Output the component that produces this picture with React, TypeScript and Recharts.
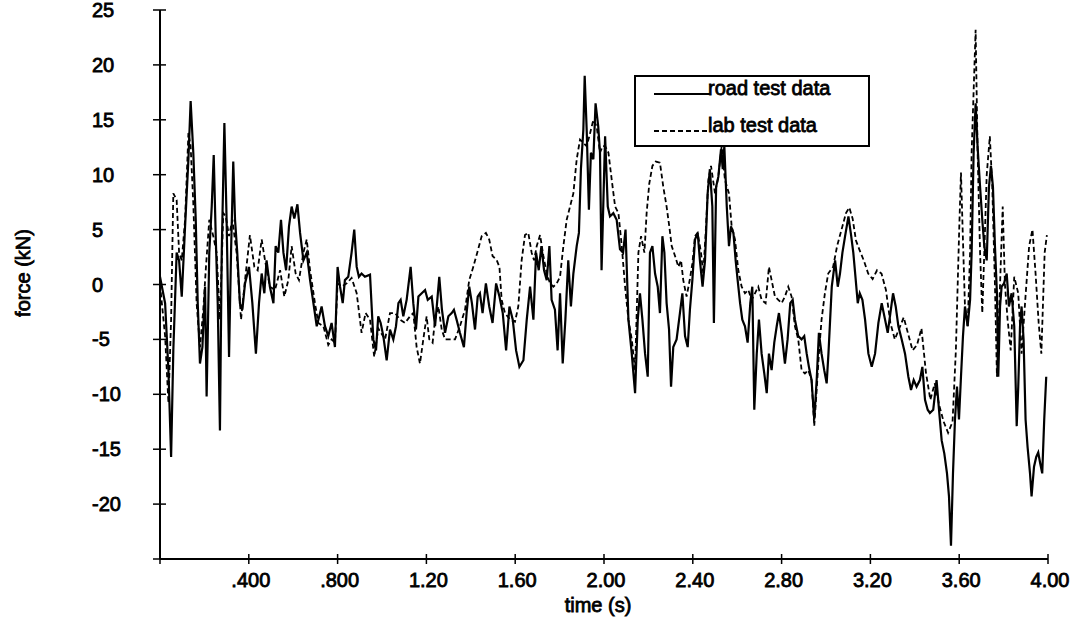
import { Legend, Line, LineChart, XAxis, YAxis } from "recharts";

// [time (s), force (kN)]
const roadTest: [number, number][] = [
  [0.0, 0.7], [0.023, -1.7], [0.038, -7.8], [0.05, -15.7], [0.06, -6.0], [0.075, 2.9],
  [0.086, 2.2], [0.098, -1.1], [0.113, 5.3], [0.128, 11.4], [0.138, 16.7], [0.15, 12.0],
  [0.161, 5.9], [0.17, -1.7], [0.18, -7.2], [0.191, -5.7], [0.203, -0.2], [0.21, -10.2],
  [0.222, 2.9], [0.233, 7.1], [0.242, 11.8], [0.251, 4.4], [0.26, -1.7], [0.27, -13.3],
  [0.278, 2.9], [0.29, 14.7], [0.3, 5.9], [0.311, -6.6], [0.32, 2.9], [0.33, 11.2],
  [0.338, 5.9], [0.348, 2.9], [0.36, -1.7], [0.371, -2.3], [0.383, 0.1], [0.401, 1.6],
  [0.416, -1.7], [0.432, -6.3], [0.446, -1.7], [0.458, 1.0], [0.47, -0.8], [0.48, 2.2],
  [0.495, -0.2], [0.511, -1.7], [0.521, 3.5], [0.533, 2.9], [0.545, 5.9], [0.556, 2.9],
  [0.568, 1.3], [0.581, 5.3], [0.593, 7.1], [0.605, 6.0], [0.619, 7.3], [0.631, 4.7],
  [0.646, 2.2], [0.661, 2.9], [0.676, 0.4], [0.691, -1.7], [0.706, -3.8], [0.721, -2.6],
  [0.728, -2.0], [0.743, -3.8], [0.758, -4.7], [0.773, -3.5], [0.788, -5.7], [0.8, 1.6],
  [0.811, -0.2], [0.823, -1.7], [0.833, 0.4], [0.848, 0.7], [0.863, 2.9], [0.875, 5.0],
  [0.886, 1.6], [0.896, 0.7], [0.908, 1.0], [0.923, 0.7], [0.946, 0.9], [0.961, -5.0],
  [0.973, -6.0], [0.983, -2.9], [0.994, -3.5],
  [1.006, -4.7], [1.021, -6.9], [1.036, -4.1], [1.051, -5.0], [1.063, -3.8], [1.074, -1.7],
  [1.084, -1.4], [1.096, -2.9], [1.111, -1.4], [1.129, 1.6], [1.141, -1.7], [1.153, -4.1],
  [1.164, -1.1], [1.179, -0.8], [1.194, -0.5], [1.206, -1.4], [1.224, -1.1], [1.239, -3.8],
  [1.258, 0.7], [1.27, -2.3], [1.284, -4.4], [1.299, -2.9], [1.314, -2.6], [1.324, -2.3],
  [1.336, -3.2], [1.351, -4.4], [1.369, -5.7], [1.381, -2.6], [1.393, -0.2], [1.405, -1.7],
  [1.419, -4.1], [1.431, -1.1], [1.441, -0.8], [1.453, -2.6], [1.468, 0.1], [1.483, -2.0],
  [1.498, -3.5], [1.514, 0.1], [1.529, -1.1], [1.544, -2.6], [1.559, -6.0], [1.574, -2.0],
  [1.589, -3.2], [1.604, -6.0], [1.619, -7.5], [1.637, -6.9], [1.652, -3.2], [1.667, -0.2],
  [1.682, -3.2], [1.694, 2.9], [1.706, 1.3], [1.718, 3.5], [1.73, 1.3], [1.742, 0.4],
  [1.754, 3.5], [1.764, -1.4], [1.779, -2.3], [1.791, -6.0], [1.802, -0.8], [1.814, -7.2],
  [1.826, -3.2], [1.839, 2.2], [1.851, -2.0], [1.862, 1.0], [1.877, 3.5], [1.887, 4.7],
  [1.896, 10.5], [1.907, 14.1], [1.913, 19.0], [1.922, 14.1], [1.932, 6.8], [1.941, 12.0],
  [1.952, 11.4], [1.962, 16.5], [1.974, 14.4], [1.982, 12.0], [1.989, 1.3], [2.005, 13.5],
  [2.017, 7.1], [2.027, 6.2], [2.042, 6.5], [2.057, 5.9], [2.072, 3.2], [2.086, 2.9],
  [2.097, 5.0], [2.11, -3.2], [2.125, -6.3], [2.14, -9.9], [2.152, -3.2], [2.162, -0.8],
  [2.173, -3.2], [2.185, -6.3], [2.197, -8.4], [2.207, 2.9], [2.218, 3.5], [2.23, 1.0],
  [2.242, -0.2], [2.252, -2.6], [2.263, 4.4], [2.272, 2.9], [2.282, -1.7], [2.293, -4.1],
  [2.302, -9.3], [2.312, -5.7], [2.327, -5.0], [2.342, -2.6], [2.353, -0.8], [2.365, -4.7],
  [2.377, -5.7], [2.387, -2.3], [2.398, 0.4], [2.41, 4.1], [2.422, 4.7], [2.432, 2.2],
  [2.444, -0.2], [2.455, 2.2], [2.467, 8.3], [2.477, 10.5], [2.488, 7.1], [2.495, -3.5],
  [2.505, 8.9], [2.515, 9.8], [2.527, 12.3], [2.535, 10.5], [2.542, 12.6], [2.553, 7.1],
  [2.563, 3.5], [2.572, 5.3], [2.583, 4.7], [2.593, 2.2], [2.602, 0.4], [2.613, -1.7],
  [2.623, -3.2], [2.635, -3.8], [2.647, -5.3], [2.659, -1.7], [2.668, -0.2], [2.677, -11.4],
  [2.688, -6.3], [2.698, -3.2], [2.71, -6.3], [2.722, -8.1], [2.733, -9.9], [2.743, -6.3],
  [2.755, -7.8], [2.767, -5.3], [2.778, -3.8], [2.788, -2.6], [2.8, -4.4], [2.815, -7.2],
  [2.827, -5.0], [2.839, -1.7], [2.85, -1.4], [2.86, -3.2], [2.875, -4.7], [2.89, -5.0],
  [2.902, -4.7], [2.913, -6.3], [2.923, -7.5], [2.935, -8.7], [2.947, -12.3], [2.958, -8.7],
  [2.968, -4.4], [2.98, -6.3], [2.992, -7.8], [3.003, -9.0], [3.011, -6.3], [3.026, -0.2],
  [3.041, 2.2], [3.053, -0.2], [3.063, 1.0], [3.074, 2.9], [3.086, 4.4], [3.101, 6.2],
  [3.113, 4.5], [3.123, 2.9], [3.134, 0.4], [3.143, -1.7], [3.152, -0.8], [3.164, -1.4],
  [3.176, -3.2], [3.191, -6.3], [3.206, -7.5], [3.221, -6.3], [3.236, -3.5], [3.251, -1.7],
  [3.266, -3.2], [3.278, -4.4], [3.29, -2.6], [3.302, -0.8], [3.314, -2.0], [3.326, -3.8],
  [3.341, -5.0], [3.356, -6.3], [3.371, -8.4], [3.383, -9.6], [3.395, -8.7], [3.408, -9.3],
  [3.423, -8.7], [3.434, -7.5], [3.446, -10.5], [3.458, -11.4], [3.468, -11.7], [3.483, -11.4],
  [3.498, -8.7], [3.509, -11.4], [3.521, -14.2], [3.533, -15.4], [3.545, -17.2], [3.554, -19.3],
  [3.563, -23.8], [3.572, -17.2], [3.581, -12.3], [3.59, -9.3], [3.599, -12.3], [3.608, -8.4],
  [3.617, -4.7], [3.626, -2.0], [3.638, -3.8], [3.649, -1.4], [3.656, 2.9], [3.665, 12.0],
  [3.674, 16.5], [3.683, 12.5], [3.694, 8.9], [3.704, 5.9], [3.713, 3.5], [3.724, 2.2],
  [3.734, 8.9], [3.743, 10.8], [3.752, 8.9], [3.761, 3.5], [3.77, -0.8], [3.776, -8.4],
  [3.784, -2.0], [3.791, -0.2], [3.802, 0.1], [3.814, 1.0], [3.824, -2.0], [3.836, -0.8],
  [3.848, -3.8], [3.859, -12.9], [3.866, -9.3], [3.874, -3.8], [3.881, -2.0], [3.89, -5.0],
  [3.899, -12.3], [3.908, -14.8], [3.919, -17.2], [3.926, -19.3], [3.937, -16.6], [3.947, -15.7],
  [3.956, -15.3], [3.965, -16.3], [3.974, -17.2], [3.983, -12.3], [3.992, -8.4],
];

const labTest: [number, number][] = [
  [0.0, 0.0], [0.023, -4.7], [0.038, -10.8], [0.05, -3.2], [0.06, 8.3], [0.075, 7.7],
  [0.086, 2.9], [0.098, 2.2], [0.113, 5.9], [0.128, 13.8], [0.138, 12.6], [0.15, 7.4],
  [0.165, -1.7], [0.18, -5.7], [0.195, -2.3], [0.206, 1.3], [0.222, 5.9], [0.24, 4.4],
  [0.255, 2.9], [0.27, -3.2], [0.285, 6.5], [0.296, 6.2], [0.311, 4.4], [0.326, 5.9],
  [0.345, 2.9], [0.365, -3.2], [0.383, 0.4], [0.405, 4.5], [0.425, 1.6], [0.44, 1.3],
  [0.458, 4.1], [0.473, 2.2], [0.495, -0.2], [0.518, -0.5], [0.541, 1.3], [0.56, -1.1],
  [0.578, 0.4], [0.593, 3.5], [0.611, 1.0], [0.626, 0.4], [0.646, 2.9], [0.661, 4.1],
  [0.676, 1.3], [0.698, -1.7], [0.713, -3.5], [0.736, -3.8], [0.758, -5.5], [0.773, -5.0],
  [0.788, -5.3], [0.8, 0.1], [0.818, -0.2], [0.841, 0.1], [0.863, 0.6], [0.886, -0.8],
  [0.908, -4.4], [0.926, -2.6], [0.946, -3.2], [0.965, -6.6], [0.983, -4.0], [1.014, -5.0],
  [1.036, -2.6], [1.059, -2.6], [1.081, -3.2], [1.104, -3.5], [1.126, -2.9], [1.141, -2.6],
  [1.156, -5.7], [1.171, -7.2], [1.186, -5.0], [1.201, -2.9], [1.213, -5.0], [1.228, -5.3],
  [1.239, -3.2], [1.254, -2.0], [1.269, -4.1], [1.284, -5.0], [1.306, -5.0], [1.329, -5.0],
  [1.351, -3.8], [1.374, -2.3], [1.393, 0.4], [1.411, 1.6], [1.429, 2.9], [1.449, 4.4],
  [1.468, 4.7], [1.483, 4.1], [1.498, 2.6], [1.517, 2.2], [1.529, 1.6], [1.539, -1.4],
  [1.554, -2.6], [1.577, -3.2], [1.599, -3.4], [1.614, -2.0], [1.629, 2.2], [1.644, 4.5],
  [1.659, 4.7], [1.674, 2.9], [1.685, 2.2], [1.697, 3.5], [1.712, 4.5], [1.727, 2.6],
  [1.742, 1.0], [1.757, 0.1], [1.772, -0.2], [1.787, 0.1], [1.802, 0.7], [1.817, 3.5],
  [1.832, 5.9], [1.847, 7.1], [1.862, 8.3], [1.877, 11.4], [1.892, 13.2], [1.907, 12.9],
  [1.922, 12.6], [1.934, 13.5], [1.952, 15.0], [1.967, 14.4], [1.982, 12.0], [1.994, 12.6],
  [2.005, 12.6], [2.02, 12.0], [2.035, 9.5], [2.05, 7.1], [2.065, 6.5], [2.08, 3.5],
  [2.095, -0.2], [2.11, -3.2], [2.125, -5.0], [2.14, -7.8], [2.155, 2.9], [2.167, 4.4],
  [2.182, 2.9], [2.192, 6.5], [2.204, 9.2], [2.218, 10.8], [2.233, 11.2], [2.252, 11.1],
  [2.267, 8.9], [2.282, 7.1], [2.294, 5.3], [2.305, 3.5], [2.32, 2.6], [2.335, 1.6],
  [2.347, 2.2], [2.357, 0.4], [2.372, -1.1], [2.387, 0.5], [2.398, 1.9], [2.41, 4.4],
  [2.422, 4.7], [2.437, 2.9], [2.447, 1.0], [2.458, 4.7], [2.47, 9.5], [2.482, 10.8],
  [2.5, 8.3], [2.515, 9.8], [2.53, 12.6], [2.545, 9.5], [2.563, 8.3], [2.575, 5.3],
  [2.59, 4.1], [2.605, 1.3], [2.62, -0.2], [2.635, -0.8], [2.65, -0.5], [2.665, -1.4],
  [2.68, -0.8], [2.695, -0.2], [2.71, -1.4], [2.728, -1.7], [2.743, 1.6], [2.755, 0.4],
  [2.77, -1.1], [2.785, -1.4], [2.8, -1.7], [2.815, -1.1], [2.83, -0.2], [2.845, -1.1],
  [2.86, -3.8], [2.875, -5.0], [2.89, -7.8], [2.905, -8.1], [2.92, -7.8], [2.935, -8.7],
  [2.947, -12.9], [2.958, -9.6], [2.968, -6.3], [2.98, -3.2], [2.995, -0.8], [3.01, 1.0],
  [3.032, 1.6], [3.05, 3.5], [3.07, 5.0], [3.09, 6.5], [3.105, 7.0], [3.12, 6.0],
  [3.135, 4.0], [3.15, 3.2], [3.17, 2.2], [3.19, 1.0], [3.21, 0.5], [3.23, 1.3],
  [3.25, 1.0], [3.27, -0.5], [3.29, -3.5], [3.31, -5.0], [3.33, -4.0], [3.35, -3.0],
  [3.37, -4.5], [3.39, -6.0], [3.41, -5.5], [3.43, -4.0], [3.45, -8.0], [3.47, -10.5],
  [3.49, -9.0], [3.51, -11.0], [3.53, -12.5], [3.55, -13.5], [3.57, -12.5], [3.585, -6.0],
  [3.6, 5.0], [3.608, 10.2], [3.617, 4.0], [3.626, -2.0], [3.638, -3.8], [3.649, 2.9],
  [3.656, 12.0], [3.674, 23.2], [3.683, 12.0], [3.694, 2.9], [3.704, -2.6], [3.713, 2.9],
  [3.724, 10.0], [3.738, 13.5], [3.749, 8.9], [3.761, 0.0], [3.77, -8.4], [3.784, 0.0],
  [3.796, 7.1], [3.806, 0.0], [3.818, -3.2], [3.832, -6.0], [3.848, 0.7], [3.866, -0.8],
  [3.881, -6.3], [3.899, -1.0], [3.915, 3.5], [3.93, 5.0], [3.944, 1.0], [3.958, -3.5],
  [3.97, -6.3], [3.985, 2.9], [3.995, 4.5],
];

const seriesNames = ["road test data", "lab test data"];
const timeTicks = [0, 0.4, 0.8, 1.2, 1.6, 2.0, 2.4, 2.8, 3.2, 3.6, 4.0];
const timeTickLabels = ["", ".400", ".800", "1.20", "1.60", "2.00", "2.40", "2.80", "3.20", "3.60", "4.00"];
const forceTicks = [-25, -20, -15, -10, -5, 0, 5, 10, 15, 20, 25];
const forceTickLabels = ["", "-20", "-15", "-10", "-5", "0", "5", "10", "15", "20", "25"];

const roadData = roadTest.map(([t, f]) => ({ t, f }));
const labData = labTest.map(([t, f]) => ({ t, f }));

const FONT = '"Liberation Sans", Arial, sans-serif';
const ink = "#000";
const textInk = { fill: ink, stroke: ink, strokeWidth: 0.8, fontSize: 20, fontFamily: FONT };

function ForceTick({ x, y, payload }: any) {
  const i = forceTicks.indexOf(payload.value);
  return (
    <g>
      <line x1={x - 7} x2={x + 6} y1={y} y2={y} stroke={ink} strokeWidth={1.5} />
      <text x={x - 68} y={y} dy={7} {...textInk} textAnchor="start">
        {forceTickLabels[i]}
      </text>
    </g>
  );
}

function TimeTick({ x, y, payload }: any) {
  const i = timeTicks.indexOf(payload.value);
  return (
    <g>
      <line x1={x} x2={x} y1={y - 5} y2={y + 5} stroke={ink} strokeWidth={1.5} />
      <text x={x + 2} y={y + 28} {...textInk} textAnchor="middle">
        {timeTickLabels[i]}
      </text>
    </g>
  );
}

function LegendBox({ payload }: any) {
  const items = [...(payload || [])].sort(
    (a: any, b: any) => seriesNames.indexOf(a.value) - seriesNames.indexOf(b.value),
  );
  return (
    <div
      style={{
        position: "relative",
        width: 236,
        height: 72,
        boxSizing: "border-box",
        border: "2px solid #000",
        background: "#fff",
        fontFamily: FONT,
        fontSize: 20,
        lineHeight: "20px",
        color: ink,
      }}
    >
      {items.map((entry: any, i: number) => {
        const dashed = entry.payload?.strokeDasharray;
        const top = i === 0 ? 0 : 37;
        return (
          <div key={entry.value} style={{ position: "absolute", left: 0, top, width: 232, height: 22 }}>
            <svg width={56} height={22} style={{ position: "absolute", left: 18, top: 0 }}>
              <line x1={0} x2={56} y1={17} y2={17} stroke={ink} strokeWidth={2} strokeDasharray={dashed} />
            </svg>
            <span style={{ position: "absolute", left: 72, top: 1, whiteSpace: "nowrap", WebkitTextStroke: "0.8px #000" }}>
              {entry.value}
            </span>
          </div>
        );
      })}
    </div>
  );
}

export default function App() {
  return (
    <div style={{ position: "absolute", left: 0, top: 0, width: 1074, height: 630, background: "#fff" }}>
      <LineChart width={1074} height={630} margin={{ top: 10, right: 26, bottom: 41, left: 100 }}>
        <XAxis
          type="number"
          dataKey="t"
          domain={[0, 4]}
          ticks={timeTicks}
          interval={0}
          height={30}
          tickSize={0}
          tickMargin={0}
          tickLine={false}
          axisLine={{ stroke: ink, strokeWidth: 2 }}
          tick={<TimeTick />}
          label={() => (
            <text x={598} y={612} {...textInk} textAnchor="middle">
              time (s)
            </text>
          )}
        />
        <YAxis
          type="number"
          domain={[-25, 25]}
          ticks={forceTicks}
          interval={0}
          width={60}
          tickSize={0}
          tickMargin={0}
          tickLine={false}
          allowDataOverflow
          axisLine={{ stroke: ink, strokeWidth: 2 }}
          tick={<ForceTick />}
          label={() => (
            <text x={30} y={273} transform="rotate(-90 30 273)" {...textInk} textAnchor="middle">
              force (kN)
            </text>
          )}
        />
        <Legend
          layout="horizontal"
          verticalAlign="middle"
          align="center"
          content={<LegendBox />}
          wrapperStyle={{ position: "absolute", left: 634, top: 75, width: 236, height: 72 }}
        />
        <Line
          data={roadData}
          dataKey="f"
          name={seriesNames[0]}
          type="linear"
          stroke={ink}
          strokeWidth={2.2}
          dot={false}
          activeDot={false}
          isAnimationActive={false}
        />
        <Line
          data={labData}
          dataKey="f"
          name={seriesNames[1]}
          type="linear"
          stroke={ink}
          strokeWidth={1.8}
          strokeDasharray="5 3"
          dot={false}
          activeDot={false}
          isAnimationActive={false}
        />
      </LineChart>
    </div>
  );
}
